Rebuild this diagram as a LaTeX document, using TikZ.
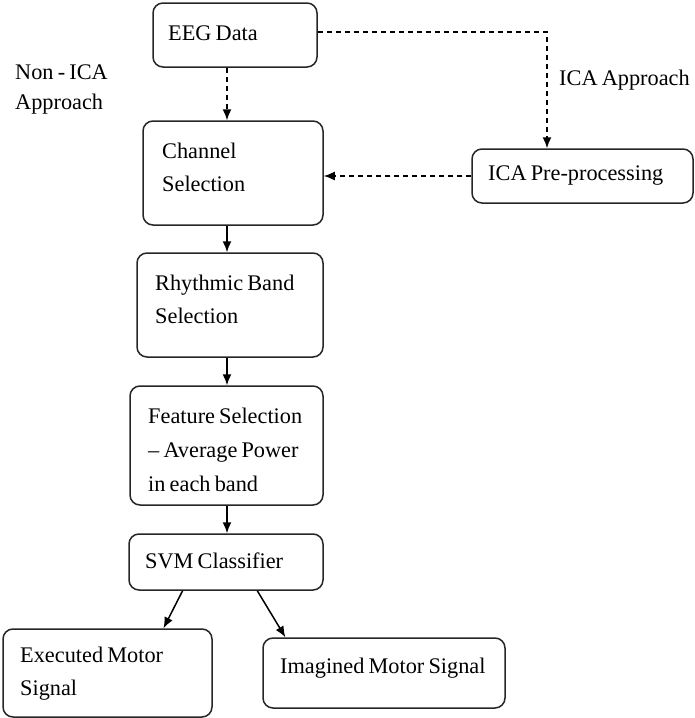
\documentclass[tikz,border=0pt]{standalone}
\usepackage{fontspec}
\setmainfont{Liberation Serif}[WordSpace=0.75]
\usetikzlibrary{arrows.meta,calc}
\begin{document}
\begin{tikzpicture}[x=1pt,y=-1pt,
 box/.style={draw=black!85, line width=1.5pt, rounded corners=10pt, inner sep=0pt},
 txt/.style={anchor=west, align=left, inner sep=0pt, font=\fontsize{22.3}{33}\selectfont},
 arr/.style={line width=1.5pt, -{Latex[length=11pt,width=9pt]}},
 darr/.style={arr, dash pattern=on 5pt off 4pt}]
\useasboundingbox (0,0) rectangle (695,718);

% boxes
\node[box, minimum width=164pt, minimum height=64pt] (eeg) at (235,35) {};
\node[box, minimum width=180pt, minimum height=104pt] (chan) at (233,173) {};
\node[box, minimum width=221pt, minimum height=54pt] (ica) at (582.5,176) {};
\node[box, minimum width=186pt, minimum height=104pt] (rhy) at (230,305) {};
\node[box, minimum width=193pt, minimum height=119pt] (feat) at (226.5,445.5) {};
\node[box, minimum width=194pt, minimum height=56pt] (svm) at (226,562) {};
\node[box, minimum width=209pt, minimum height=88pt] (exe) at (107.5,673) {};
\node[box, minimum width=242pt, minimum height=70pt] (ima) at (384,673) {};

% texts
\node[txt] (eegT) at (168,33) {EEG Data};
\node[txt] (nonT) at (15,89) {Non - ICA\\[-3pt]Approach};
\node[txt] (chanT) at (162,167) {Channel\\Selection};
\node[txt] (icaT) at (488,176) {ICA Pre-processing};
\node[txt] (appT) at (559,80) {ICA Approach};
\node[txt] (rhyT) at (155,299) {Rhythmic Band\\Selection};
\node[txt] (featT) at (148,450) {Feature Selection\\[1pt]-- Average Power\\[1pt]in each band};
\node[txt] (svmT) at (145,561) {SVM Classifier};
\node[txt] (exeT) at (20,674) {Executed Motor\\Signal};
\node[txt] (imaT) at (280,668) {Imagined Motor Signal};

% helper coordinates
\coordinate (sp) at (227,0);
\coordinate (tx) at (547,32);

% connectors
\draw[darr] (eeg.south -| sp) -- (chan.north -| sp);
\draw[darr] (eeg.east |- tx) -| (ica.north -| tx);
\draw[darr] (ica.west) -- (ica.west -| chan.east);
\draw[arr] (chan.south -| sp) -- (rhy.north -| sp);
\draw[arr] (rhy.south -| sp) -- (feat.north -| sp);
\draw[arr] (feat.south -| sp) -- (svm.north -| sp);
\draw[arr] ($(svm.south west)!0.278!(svm.south east)$) -- ($(exe.north west)!0.766!(exe.north east)$);
\draw[arr] ($(svm.south west)!0.66!(svm.south east)$) -- ($(ima.north west)!0.095!(ima.north east)$);
\end{tikzpicture}
\end{document}
